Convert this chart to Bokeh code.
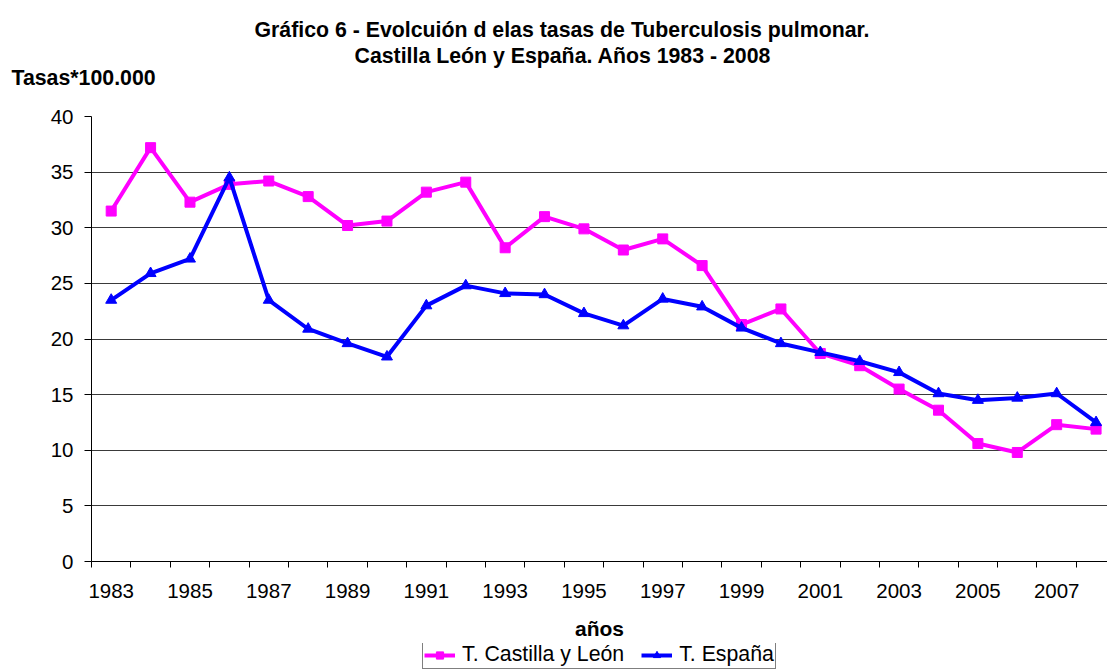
from bokeh.plotting import figure
from bokeh.layouts import column
from bokeh.models import FixedTicker, Legend, LegendItem, Range1d, Title
from bokeh.embed import file_html
from bokeh.resources import INLINE

# ---- data ----
years = list(range(1983, 2009))
castilla_leon = [31.5, 37.2, 32.3, 33.9, 34.2, 32.8, 30.2, 30.6, 33.2, 34.1,
                 28.2, 31.0, 29.9, 28.0, 29.0, 26.6, 21.3, 22.7, 18.7, 17.6,
                 15.5, 13.6, 10.6, 9.8, 12.3, 11.9]
espana = [23.5, 25.9, 27.2, 34.5, 23.5, 20.9, 19.6, 18.4, 23.0, 24.8,
          24.1, 24.0, 22.3, 21.2, 23.6, 22.9, 21.0, 19.6, 18.8, 18.0,
          17.0, 15.1, 14.5, 14.7, 15.1, 12.5]
y_ticks = [0, 5, 10, 15, 20, 25, 30, 35, 40]
x_label_years = years[::2]
title_line1 = "Gráfico 6 - Evolcuión d elas tasas de Tuberculosis pulmonar."
title_line2 = "Castilla León y España. Años 1983 - 2008"
y_title = "Tasas*100.000"
x_title = "años"
series_names = ["T. Castilla y León", "T. España"]

FONT = "Liberation Sans"
MAGENTA = "#FF00FF"
BLUE = "#0000FF"

W, H1, H2 = 1107, 643, 27

p = figure(width=W, height=H1, output_backend="svg", toolbar_location=None,
           x_range=Range1d(1982.5, 2008.29), y_range=Range1d(0, 40),
           min_border_left=91, min_border_right=0, min_border_top=116,
           min_border_bottom=H1 - 561)
p.outline_line_color = None
p.background_fill_color = "white"
p.border_fill_color = "white"

# grid
p.xgrid.grid_line_color = None
p.ygrid.grid_line_color = "#3a3a3a"
p.ygrid.grid_line_width = 1
p.ygrid.ticker = FixedTicker(ticks=y_ticks)

# y axis
p.yaxis.ticker = FixedTicker(ticks=y_ticks)
p.yaxis.axis_line_color = "black"
p.yaxis.major_tick_line_color = "black"
p.yaxis.major_tick_out = 7
p.yaxis.major_tick_in = 0
p.yaxis.minor_tick_line_color = None
p.yaxis.major_label_standoff = 11
p.yaxis.major_label_text_font = FONT
p.yaxis.major_label_text_font_size = "20.5px"
p.yaxis.major_label_text_color = "black"

# x axis: labels at every other year, ticks at category boundaries
boundaries = [y - 0.5 for y in years] + [years[-1] + 0.5]
p.xaxis.ticker = FixedTicker(ticks=x_label_years, minor_ticks=boundaries)
p.xaxis.axis_line_color = "black"
p.xaxis.major_tick_line_color = None
p.xaxis.minor_tick_line_color = "black"
p.xaxis.minor_tick_out = 6
p.xaxis.minor_tick_in = 0
p.xaxis.major_label_standoff = 16
p.xaxis.major_label_text_font = FONT
p.xaxis.major_label_text_font_size = "20.5px"
p.xaxis.major_label_text_color = "black"
p.xaxis.axis_label = x_title
p.xaxis.axis_label_standoff = 16
p.xaxis.axis_label_text_font = FONT
p.xaxis.axis_label_text_font_style = "bold"
p.xaxis.axis_label_text_font_size = "21px"
p.xaxis.axis_label_text_color = "black"

# series
p.line(years, castilla_leon, line_color=MAGENTA, line_width=4)
p.scatter(years, castilla_leon, marker="square", size=10,
          fill_color=MAGENTA, line_color=MAGENTA)
p.line(years, espana, line_color=BLUE, line_width=4)
p.scatter(years, espana, marker="triangle", size=11,
          fill_color=BLUE, line_color=BLUE)

# titles stacked above the frame (first added = closest to the frame)
def add_title(text, offset, standoff, size="21.3px"):
    t = Title(text=text, align="left", offset=offset, standoff=0,
              text_font=FONT, text_font_style="bold", text_font_size=size,
              text_color="black")
    try:
        t.standoff = standoff
    except Exception:
        t.standoff = max(standoff, 0)
    p.add_layout(t, "above")

add_title(" ", 0, 28, size="1px")       # spacer between frame and y title
add_title(y_title, -80, -8)
add_title(title_line2, 263, 0)
add_title(title_line1, 163, 0)

# ---- legend strip below the chart ----
p2 = figure(width=W, height=H2, output_backend="svg", toolbar_location=None,
            x_range=Range1d(0, 1), y_range=Range1d(0, 1),
            x_axis_location=None, y_axis_location=None,
            min_border=0, min_border_left=0, min_border_right=0,
            min_border_top=0, min_border_bottom=0)
p2.outline_line_color = None
p2.grid.grid_line_color = None
p2.background_fill_color = "white"
p2.border_fill_color = "white"

r1 = [p2.line(years, castilla_leon, line_color=MAGENTA, line_width=4, visible=False),
      p2.scatter(years, castilla_leon, marker="square", size=10,
                 fill_color=MAGENTA, line_color=MAGENTA, visible=False)]
r2 = [p2.line(years, espana, line_color=BLUE, line_width=4, visible=False),
      p2.scatter(years, espana, marker="triangle", size=11,
                 fill_color=BLUE, line_color=BLUE, visible=False)]

legend = Legend(items=[LegendItem(label=series_names[0], renderers=r1),
                       LegendItem(label=series_names[1], renderers=r2)],
                orientation="horizontal", location=(331, 1))
legend.border_line_color = "black"
legend.border_line_width = 1
legend.background_fill_color = "white"
legend.background_fill_alpha = 1
legend.inactive_fill_alpha = 0
legend.label_text_font = FONT
legend.label_text_font_size = "21.3px"
legend.label_text_color = "black"
legend.glyph_width = 31
legend.glyph_height = 18
legend.label_height = 18
legend.label_standoff = 7
legend.spacing = 17
legend.padding = 1
legend.margin = 0
p2.add_layout(legend)

layout = column(p, p2, spacing=0)
open("out.html", "w").write(file_html(layout, INLINE))
